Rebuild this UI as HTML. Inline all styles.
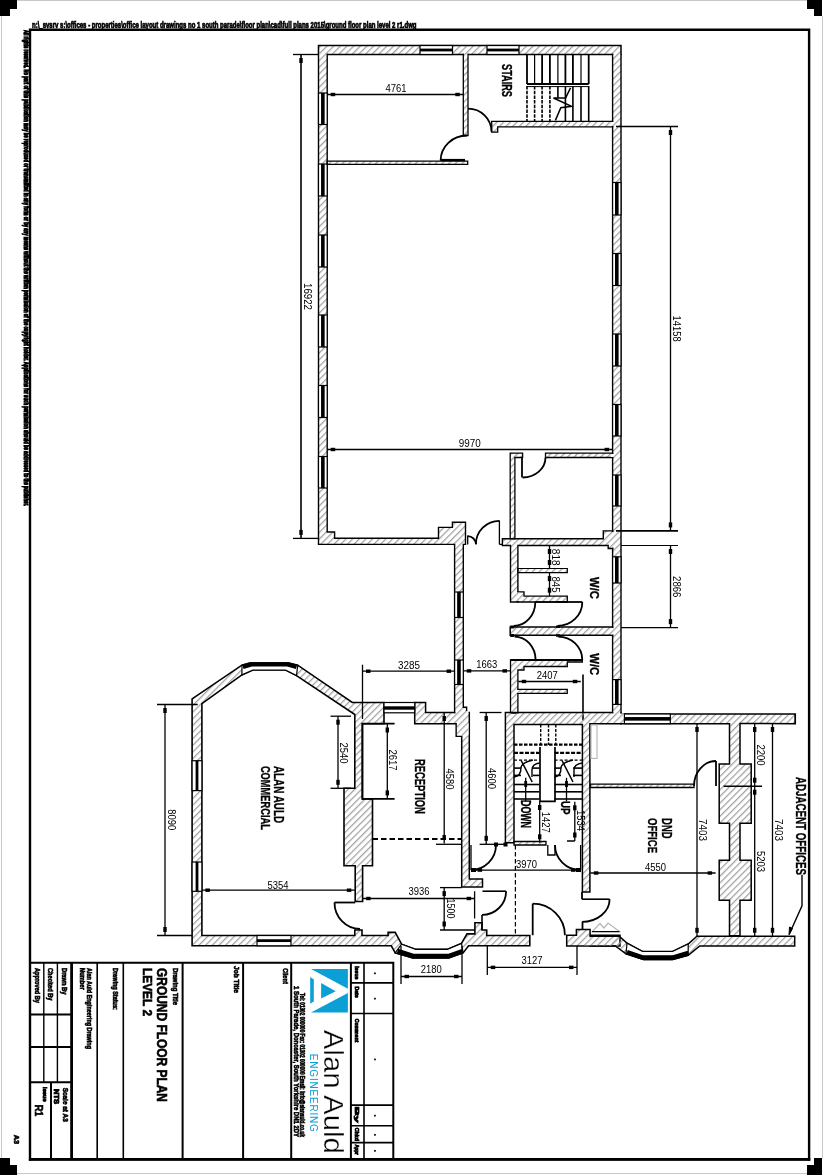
<!DOCTYPE html><html><head><meta charset="utf-8"><style>
html,body{margin:0;padding:0;background:#fff;}
svg{display:block;will-change:transform;}
text{font-family:"Liberation Sans",sans-serif;}
.w{fill:url(#h);stroke:#000;stroke-linejoin:miter;}
.wf{fill:url(#h);stroke:none;}
</style></head><body>
<svg width="824" height="1175" viewBox="0 0 824 1175">
<defs><pattern id="h" width="4.7" height="4.7" patternUnits="userSpaceOnUse" patternTransform="rotate(45)"><line x1="0.5" y1="0" x2="0.5" y2="4.7" stroke="#a0a0a0" stroke-width="1.5"/></pattern></defs>
<rect width="824" height="1175" fill="#fff"/>

<path d="M17,0.5 H807 M1.5,16 V1158 M822.5,16 V1158 M17,1173.5 H807" stroke="#c8c8c8" stroke-width="1" fill="none"/>
<path d="M0,0 H17 V9 H10 V16 H0Z M807,0 H822 V16 H814 V9 H807Z M0,1158 H10 V1165 H17 V1175 H0Z M814,1158 H822 V1175 H807 V1165 H814Z" fill="#000"/>
<path d="M28.9,29.8 H810.3 M30,28.6 V1160.8 M809.1,28.6 V1160.8 M28.9,1159.4 H810.3" fill="none" stroke="#000" stroke-width="2.4"/>
<path d="M28.9,1159.4 H810.3" fill="none" stroke="#000" stroke-width="2.9"/>
<text x="32" y="24.6" font-size="8.6" font-weight="bold" text-anchor="start" dominant-baseline="central" fill="#000" textLength="384.5" lengthAdjust="spacingAndGlyphs" stroke="#000" stroke-width="0.7">n:\_svsrv s:\offices - properties\office layout drawings no 1 south parade\floor plan\cad\full plans 2015\ground floor plan level 2 r1.dwg</text>
<text transform="translate(26.5,30) rotate(90)" font-size="7.6" font-weight="bold" text-anchor="start" dominant-baseline="central" fill="#000" textLength="476" lengthAdjust="spacingAndGlyphs" stroke="#000" stroke-width="1.1">All rights reserved. No part of this publication may be reproduced or transmitted in any form or by any means without the written permission of the copyright holder. Applications for such permission should be addressed to the publisher.</text>
<path class="w" style="stroke-width:1.5" d="M318.5,45.5 L621,45.5 L621,54.5 L318.5,54.5Z"/>
<path class="w" style="stroke-width:1.4" d="M318.5,54.5 L327.2,54.5 L327.2,532 L334.6,532 L334.6,538.3 L438.5,538.3 L438.5,527.4 L452.4,527.4 L452.4,522.3 L465.5,522.3 L465.5,544.4 L463.3,544.4 L463.3,707.3 L466.6,707.3 L466.6,712.5 L454.6,712.5 L454.6,544.4 L318.5,544.4Z"/>
<path class="w" style="stroke-width:1.4" d="M612.6,54.5 L621,54.5 L621,713 L612.6,713Z"/>
<rect fill="#fff" x="319.3" y="53" width="7.1" height="3"/>
<rect class="wf" x="319.3" y="53" width="7.1" height="3"/>
<rect fill="#fff" x="613.4" y="53" width="6.8" height="3"/>
<rect class="wf" x="613.4" y="53" width="6.8" height="3"/>
<rect x="318.5" y="93" width="8.7" height="31.5" fill="#fff" stroke="#000" stroke-width="1.2"/>
<rect x="321.05" y="93" width="3.6" height="31.5" fill="#000"/>
<rect x="318.5" y="164" width="8.7" height="32" fill="#fff" stroke="#000" stroke-width="1.2"/>
<rect x="321.05" y="164" width="3.6" height="32" fill="#000"/>
<rect x="318.5" y="235" width="8.7" height="32" fill="#fff" stroke="#000" stroke-width="1.2"/>
<rect x="321.05" y="235" width="3.6" height="32" fill="#000"/>
<rect x="318.5" y="315" width="8.7" height="32" fill="#fff" stroke="#000" stroke-width="1.2"/>
<rect x="321.05" y="315" width="3.6" height="32" fill="#000"/>
<rect x="318.5" y="385.5" width="8.7" height="32" fill="#fff" stroke="#000" stroke-width="1.2"/>
<rect x="321.05" y="385.5" width="3.6" height="32" fill="#000"/>
<rect x="318.5" y="456.5" width="8.7" height="31.5" fill="#fff" stroke="#000" stroke-width="1.2"/>
<rect x="321.05" y="456.5" width="3.6" height="31.5" fill="#000"/>
<rect x="612.6" y="182.5" width="8.4" height="32.5" fill="#fff" stroke="#000" stroke-width="1.2"/>
<rect x="615" y="182.5" width="3.6" height="32.5" fill="#000"/>
<rect x="612.6" y="253.5" width="8.4" height="32" fill="#fff" stroke="#000" stroke-width="1.2"/>
<rect x="615" y="253.5" width="3.6" height="32" fill="#000"/>
<rect x="612.6" y="334" width="8.4" height="32" fill="#fff" stroke="#000" stroke-width="1.2"/>
<rect x="615" y="334" width="3.6" height="32" fill="#000"/>
<rect x="612.6" y="404.5" width="8.4" height="31.5" fill="#fff" stroke="#000" stroke-width="1.2"/>
<rect x="615" y="404.5" width="3.6" height="31.5" fill="#000"/>
<rect x="612.6" y="475" width="8.4" height="31" fill="#fff" stroke="#000" stroke-width="1.2"/>
<rect x="615" y="475" width="3.6" height="31" fill="#000"/>
<rect x="612.6" y="556.8" width="8.4" height="26.2" fill="#fff" stroke="#000" stroke-width="1.2"/>
<rect x="615" y="556.8" width="3.6" height="26.2" fill="#000"/>
<rect x="612.6" y="679.6" width="8.4" height="24.8" fill="#fff" stroke="#000" stroke-width="1.2"/>
<rect x="615" y="679.6" width="3.6" height="24.8" fill="#000"/>
<rect x="454.6" y="592" width="8.7" height="25.5" fill="#fff" stroke="#000" stroke-width="1.2"/>
<rect x="457.15" y="592" width="3.6" height="25.5" fill="#000"/>
<rect x="454.6" y="660" width="8.7" height="24.5" fill="#fff" stroke="#000" stroke-width="1.2"/>
<rect x="457.15" y="660" width="3.6" height="24.5" fill="#000"/>
<rect x="420" y="45.5" width="32.5" height="9" fill="#fff" stroke="#000" stroke-width="1.2"/>
<rect x="420" y="48.6" width="32.5" height="2.8" fill="#000"/>
<rect x="487" y="45.5" width="32" height="9" fill="#fff" stroke="#000" stroke-width="1.2"/>
<rect x="487" y="48.6" width="32" height="2.8" fill="#000"/>
<path class="w" style="stroke-width:1.3" d="M463.3,54.5 L468,54.5 L468,135.5 L463.3,135.5Z"/>
<path class="w" style="stroke-width:1.3" d="M327.2,161.2 L467.7,161.2 L467.7,164.4 L327.2,164.4Z"/>
<rect fill="#fff" x="464" y="53" width="3.3" height="3.5"/>
<rect class="wf" x="464" y="53" width="3.3" height="3.5"/>
<path d="M468,108.7 A23.5,23 0 0 1 491.5,131.7" fill="none" stroke="#000" stroke-width="1.8" />
<path d="M467,135.5 A26.4,25.1 0 0 0 440.6,160.6" fill="none" stroke="#000" stroke-width="1.8" />
<line x1="440.6" y1="160" x2="465" y2="160" stroke="#000" stroke-width="2.2" />
<path class="w" style="stroke-width:1.3" d="M491.7,121.3 L612.6,121.3 L612.6,126.8 L497.7,126.8 L497.7,132.2 L491.7,132.2Z"/>
<rect fill="#fff" x="611" y="122" width="3" height="4"/>
<rect class="wf" x="611" y="122" width="3" height="4"/>
<line x1="527" y1="54.5" x2="527" y2="84" stroke="#000" stroke-width="1.8" />
<line x1="534.6" y1="54.5" x2="534.6" y2="84" stroke="#000" stroke-width="1.2" />
<line x1="542.1" y1="54.5" x2="542.1" y2="84" stroke="#000" stroke-width="1.8" />
<line x1="549.9" y1="54.5" x2="549.9" y2="84" stroke="#000" stroke-width="1.8" />
<line x1="557.9" y1="54.5" x2="557.9" y2="84" stroke="#000" stroke-width="1.2" />
<line x1="565.4" y1="54.5" x2="565.4" y2="84" stroke="#000" stroke-width="1.8" />
<line x1="572.9" y1="54.5" x2="572.9" y2="84" stroke="#000" stroke-width="1.8" />
<line x1="581" y1="54.5" x2="581" y2="84" stroke="#000" stroke-width="1.2" />
<line x1="588.7" y1="54.5" x2="588.7" y2="84" stroke="#000" stroke-width="1.8" />
<line x1="565.4" y1="86" x2="565.4" y2="121.3" stroke="#000" stroke-width="1.6" />
<line x1="572.9" y1="86" x2="572.9" y2="121.3" stroke="#000" stroke-width="1.6" />
<line x1="581" y1="86" x2="581" y2="121.3" stroke="#000" stroke-width="1.6" />
<line x1="588.7" y1="86" x2="588.7" y2="121.3" stroke="#000" stroke-width="1.6" />
<line x1="557.9" y1="86" x2="557.9" y2="98" stroke="#000" stroke-width="1.6" />
<line x1="527" y1="86" x2="527" y2="121.3" stroke="#000" stroke-width="1.6" stroke-dasharray="3.5,1.2"/>
<line x1="534.6" y1="86" x2="534.6" y2="121.3" stroke="#000" stroke-width="1.6" stroke-dasharray="3.5,1.2"/>
<line x1="542.1" y1="86" x2="542.1" y2="121.3" stroke="#000" stroke-width="1.6" stroke-dasharray="3.5,1.2"/>
<line x1="549.9" y1="86" x2="549.9" y2="121.3" stroke="#000" stroke-width="1.6" stroke-dasharray="3.5,1.2"/>
<line x1="527" y1="84" x2="588.7" y2="84" stroke="#000" stroke-width="2.2" />
<line x1="527" y1="86.6" x2="588.7" y2="86.6" stroke="#000" stroke-width="1" />
<path d="M570.5,87.9 L565.6,98 L553.5,98 L571.5,106.3 L560.8,107.8 L555.4,120.4" fill="none" stroke="#000" stroke-width="1.5" />
<text transform="translate(507.2,80.5) rotate(90)" font-size="13.9" font-weight="bold" text-anchor="middle" dominant-baseline="central" fill="#000" textLength="33" lengthAdjust="spacingAndGlyphs" stroke="#000" stroke-width="0.35">STAIRS</text>
<line x1="293" y1="54.5" x2="318.5" y2="54.5" stroke="#000" stroke-width="1.3" />
<line x1="293" y1="538.4" x2="318.5" y2="538.4" stroke="#000" stroke-width="1.3" />
<line x1="301" y1="54.5" x2="301" y2="538.4" stroke="#000" stroke-width="1.6" />
<rect x="299.3" y="58" width="3.4" height="5" fill="#000"/>
<rect x="299.3" y="529.9" width="3.4" height="5" fill="#000"/>
<text transform="translate(307.5,296.5) rotate(90)" font-size="10.5" text-anchor="middle" dominant-baseline="central" fill="#000" textLength="27" lengthAdjust="spacingAndGlyphs" >16922</text>
<line x1="327.2" y1="94.5" x2="463.3" y2="94.5" stroke="#000" stroke-width="1.3" />
<rect x="330.7" y="92.8" width="4.5" height="3.4" fill="#000"/>
<rect x="455.3" y="92.8" width="4.5" height="3.4" fill="#000"/>
<text x="396" y="88" font-size="10.5" text-anchor="middle" dominant-baseline="central" fill="#000" textLength="21" lengthAdjust="spacingAndGlyphs" >4761</text>
<line x1="327.2" y1="449.5" x2="612.6" y2="449.5" stroke="#000" stroke-width="1.3" />
<rect x="330.7" y="447.8" width="4.5" height="3.4" fill="#000"/>
<rect x="604.6" y="447.8" width="4.5" height="3.4" fill="#000"/>
<text x="469.8" y="443" font-size="10.5" text-anchor="middle" dominant-baseline="central" fill="#000" textLength="22" lengthAdjust="spacingAndGlyphs" >9970</text>
<line x1="616" y1="126.5" x2="678" y2="126.5" stroke="#000" stroke-width="1.6" />
<line x1="616" y1="530.9" x2="678" y2="530.9" stroke="#000" stroke-width="1.6" />
<line x1="670.5" y1="126.5" x2="670.5" y2="530.9" stroke="#000" stroke-width="1.3" />
<rect x="668.8" y="130" width="3.4" height="5" fill="#000"/>
<rect x="668.8" y="522.4" width="3.4" height="5" fill="#000"/>
<text transform="translate(676.7,328.6) rotate(90)" font-size="10.5" text-anchor="middle" dominant-baseline="central" fill="#000" textLength="26" lengthAdjust="spacingAndGlyphs" >14158</text>
<line x1="621" y1="545.5" x2="678" y2="545.5" stroke="#000" stroke-width="1.2" />
<line x1="621" y1="627.6" x2="678" y2="627.6" stroke="#000" stroke-width="1.2" />
<line x1="670.5" y1="545.5" x2="670.5" y2="627.6" stroke="#000" stroke-width="1.3" />
<rect x="668.8" y="549" width="3.4" height="5" fill="#000"/>
<rect x="668.8" y="619.1" width="3.4" height="5" fill="#000"/>
<text transform="translate(676.8,586.7) rotate(90)" font-size="10.5" text-anchor="middle" dominant-baseline="central" fill="#000" textLength="21.3" lengthAdjust="spacingAndGlyphs" >2866</text>
<path class="w" style="stroke-width:1.3" d="M510.2,453.1 L522.6,453.1 L522.6,457.5 L514.9,457.5 L514.9,538.8 L510.2,538.8Z"/>
<path class="w" style="stroke-width:1.3" d="M545.5,453.1 L612.6,453.1 L612.6,457.5 L545.5,457.5Z"/>
<rect fill="#fff" x="611" y="454" width="3" height="3"/>
<rect class="wf" x="611" y="454" width="3" height="3"/>
<line x1="522" y1="457" x2="522" y2="477.5" stroke="#000" stroke-width="1.8" />
<path d="M522.6,477.5 A23,20 0 0 0 545.5,457.5" fill="none" stroke="#000" stroke-width="1.8" />
<path class="w" style="stroke-width:1.4" d="M502.4,538.8 L603.3,538.8 L603.3,530.9 L612.6,530.9 L612.6,548.5 L608.2,548.5 L608.2,545.5 L517.9,545.5 L517.9,602 L510.5,602 L510.5,545.5 L502.4,545.5Z"/>
<rect fill="#fff" x="611" y="532" width="3" height="15.5"/>
<rect class="wf" x="611" y="532" width="3" height="15.5"/>
<line x1="467.7" y1="535.6" x2="467.7" y2="544.4" stroke="#000" stroke-width="1.3" />
<path d="M467.7,536.1 A8.2,8.2 0 0 1 475.9,544.3" fill="none" stroke="#000" stroke-width="1.8" />
<path d="M475.9,544.3 A23.5,23.5 0 0 1 499.4,520.8" fill="none" stroke="#000" stroke-width="1.8" />
<line x1="499.4" y1="520.5" x2="499.4" y2="544.4" stroke="#000" stroke-width="1.3" />
<line x1="499.4" y1="544.4" x2="502.4" y2="544.4" stroke="#000" stroke-width="1.3" />
<path class="w" style="stroke-width:1.2" d="M517.9,568.5 L567.3,568.5 L567.3,572.6 L517.9,572.6Z"/>
<path class="w" style="stroke-width:1.3" d="M517.9,591.8 L524,591.8 L524,596.2 L567.3,596.2 L567.3,602 L517.9,602Z"/>
<rect fill="#fff" x="516.5" y="592.5" width="3" height="8.5"/>
<rect class="wf" x="516.5" y="592.5" width="3" height="8.5"/>
<line x1="549.5" y1="545.5" x2="549.5" y2="568.5" stroke="#000" stroke-width="1.3" />
<rect x="547.8" y="549" width="3.4" height="5" fill="#000"/>
<rect x="547.8" y="560" width="3.4" height="5" fill="#000"/>
<text transform="translate(556,557.2) rotate(90)" font-size="10.5" text-anchor="middle" dominant-baseline="central" fill="#000" textLength="16.8" lengthAdjust="spacingAndGlyphs" >818</text>
<line x1="549.5" y1="572.6" x2="549.5" y2="596.2" stroke="#000" stroke-width="1.3" />
<rect x="547.8" y="576.1" width="3.4" height="5" fill="#000"/>
<rect x="547.8" y="587.7" width="3.4" height="5" fill="#000"/>
<text transform="translate(556,584.5) rotate(90)" font-size="10.5" text-anchor="middle" dominant-baseline="central" fill="#000" textLength="16" lengthAdjust="spacingAndGlyphs" >845</text>
<text transform="translate(594.6,588) rotate(90)" font-size="13.3" font-weight="bold" text-anchor="middle" dominant-baseline="central" fill="#000" textLength="22" lengthAdjust="spacingAndGlyphs" stroke="#000" stroke-width="0.35">W/C</text>
<path class="w" style="stroke-width:1.5" d="M510.2,627.1 L612.6,627.1 L612.6,635.3 L510.2,635.3Z"/>
<rect fill="#fff" x="611" y="628" width="3" height="6.5"/>
<rect class="wf" x="611" y="628" width="3" height="6.5"/>
<rect x="510.2" y="625.5" width="4" height="3" fill="#000"/><rect x="510.2" y="634" width="4" height="3" fill="#000"/>
<rect x="556" y="625.5" width="4" height="2.5" fill="#000"/><rect x="556" y="634.3" width="4" height="2.5" fill="#000"/>
<path d="M513.8,626 A21.5,24 0 0 0 535.3,602" fill="none" stroke="#000" stroke-width="1.8" />
<path d="M557.5,626 A24.8,24 0 0 0 582.3,602" fill="none" stroke="#000" stroke-width="1.8" />
<line x1="535" y1="602" x2="567.3" y2="602" stroke="#000" stroke-width="1.3" />
<line x1="556.8" y1="602" x2="582.3" y2="602" stroke="#000" stroke-width="1.8" />
<path d="M514.6,636.6 A21,23.4 0 0 1 535.6,660" fill="none" stroke="#000" stroke-width="1.8" />
<path d="M558.2,636.6 A24.1,23.4 0 0 1 582.3,660" fill="none" stroke="#000" stroke-width="1.8" />
<path class="w" style="stroke-width:1.3" d="M510.5,660 L582.3,660 L582.3,662 L567.3,662 L567.3,666.5 L524,666.5 L524,670 L517.9,670 L517.9,713.2 L510.5,713.2Z"/>
<line x1="510.5" y1="660" x2="582.3" y2="660" stroke="#000" stroke-width="2.2" />
<path class="w" style="stroke-width:1.2" d="M517.9,689.4 L567.3,689.4 L567.3,693.4 L517.9,693.4Z"/>
<rect fill="#fff" x="516.5" y="690" width="3" height="3"/>
<rect class="wf" x="516.5" y="690" width="3" height="3"/>
<line x1="518.2" y1="681.5" x2="580.8" y2="681.5" stroke="#000" stroke-width="1.3" />
<rect x="521.7" y="679.8" width="4.5" height="3.4" fill="#000"/>
<rect x="572.8" y="679.8" width="4.5" height="3.4" fill="#000"/>
<text x="547.3" y="675.3" font-size="10.5" text-anchor="middle" dominant-baseline="central" fill="#000" textLength="21" lengthAdjust="spacingAndGlyphs" >2407</text>
<line x1="583" y1="674.5" x2="583" y2="720.4" stroke="#000" stroke-width="1.6" />
<text transform="translate(594.6,664.3) rotate(90)" font-size="13.3" font-weight="bold" text-anchor="middle" dominant-baseline="central" fill="#000" textLength="22" lengthAdjust="spacingAndGlyphs" stroke="#000" stroke-width="0.35">W/C</text>
<line x1="463.3" y1="670.9" x2="510.5" y2="670.9" stroke="#000" stroke-width="1.3" />
<rect x="466.8" y="669.2" width="4.5" height="3.4" fill="#000"/>
<rect x="502.5" y="669.2" width="4.5" height="3.4" fill="#000"/>
<text x="486.8" y="664.4" font-size="10.5" text-anchor="middle" dominant-baseline="central" fill="#000" textLength="21" lengthAdjust="spacingAndGlyphs" >1663</text>
<path class="w" style="stroke-width:1.6" d="M355.2,901.5 L355.2,865.8 L344,865.8 L344,788.3 L354.8,788.3 L354.8,714.5 L296.5,675.6 L285.6,670 L252.8,670 L241.9,674.9 L201.9,703.6 L201.9,935.5 L354.8,935.5 L354.8,930 L362,930 L362,935.5 L388.1,935.5 L388.1,932.4 L395.2,932.4 L401.6,944.2 L415.8,949.4 L447.3,949.4 L461.5,943.4 L467,933.9 L474.9,933.9 L474.9,922.8 L482,922.8 L482,930 L486.7,930 L486.7,935.5 L529.8,935.5 L529.8,945.8 L468.6,945.8 L463.1,952.9 L448.9,957.9 L412.6,957.9 L395.2,952.9 L391.3,945.8 L192.1,945.8 L192.1,698.9 L241.9,665.2 L250.4,662.8 L288,662.8 L297.7,665.2 L352.3,702.5 L384,702.5 L384,723.7 L362.4,723.7 L362.4,798.9 L372.5,798.9 L372.5,865.8 L362.6,865.8 L362.6,901.5Z"/>
<path d="M242,665.2 L250.4,662.8 L288,662.8 L297.7,665.2 L296.5,675.6 L285.6,670 L252.8,670 L241.9,674.9Z" fill="#fff" stroke="#000" stroke-width="1.2"/>
<path d="M243,667 L251.5,664.5 L287.5,664.5 L296.5,667" fill="none" stroke="#000" stroke-width="4"/>
<rect x="192.1" y="760.7" width="9.8" height="29.9" fill="#fff" stroke="#000" stroke-width="1.2"/>
<rect x="195.6" y="760.7" width="2.8" height="29.9" fill="#000"/>
<rect x="192.1" y="862" width="9.8" height="29.3" fill="#fff" stroke="#000" stroke-width="1.2"/>
<rect x="195.6" y="862" width="2.8" height="29.3" fill="#000"/>
<rect x="257" y="935.5" width="34" height="10.3" fill="#fff" stroke="#000" stroke-width="1.2"/>
<rect x="257" y="939.25" width="34" height="2.8" fill="#000"/>
<path class="w" style="stroke-width:1.5" d="M414.7,702.5 L425.6,702.5 L425.6,712.5 L469.3,712.5 L469.3,879.1 L482.5,879.1 L482.5,887 L461.7,887 L461.7,736.2 L456.2,736.2 L456.2,723.7 L414.7,723.7Z"/>
<rect fill="#fff" x="455.5" y="711" width="13" height="3"/>
<rect class="wf" x="455.5" y="711" width="13" height="3"/>
<rect x="384" y="702.5" width="30.7" height="10.3" fill="#fff" stroke="#000" stroke-width="1.2"/>
<rect x="384" y="706.3" width="30.7" height="3.4" fill="#000"/>
<path d="M394.6,723.7 L362.4,723.7 L362.4,798.9 L394.6,798.9" fill="none" stroke="#000" stroke-width="1.8" />
<line x1="372.5" y1="839" x2="461.7" y2="839" stroke="#000" stroke-width="2" stroke-dasharray="5.5,3"/>
<text transform="translate(279.5,794.5) rotate(90)" font-size="15" font-weight="bold" text-anchor="middle" dominant-baseline="central" fill="#000" textLength="57" lengthAdjust="spacingAndGlyphs" stroke="#000" stroke-width="0.35">ALAN AULD</text>
<text transform="translate(265,797.9) rotate(90)" font-size="13.4" font-weight="bold" text-anchor="middle" dominant-baseline="central" fill="#000" textLength="64" lengthAdjust="spacingAndGlyphs" stroke="#000" stroke-width="0.35">COMMERCIAL</text>
<text transform="translate(420,786.4) rotate(90)" font-size="14" font-weight="bold" text-anchor="middle" dominant-baseline="central" fill="#000" textLength="55" lengthAdjust="spacingAndGlyphs" stroke="#000" stroke-width="0.35">RECEPTION</text>
<line x1="157" y1="704.5" x2="197.7" y2="704.5" stroke="#000" stroke-width="1.3" />
<line x1="157" y1="935.5" x2="192.1" y2="935.5" stroke="#000" stroke-width="1.3" />
<line x1="165" y1="704.5" x2="165" y2="935.5" stroke="#000" stroke-width="1.3" />
<rect x="163.3" y="708" width="3.4" height="5" fill="#000"/>
<rect x="163.3" y="927" width="3.4" height="5" fill="#000"/>
<text transform="translate(171.8,819.8) rotate(90)" font-size="10.5" text-anchor="middle" dominant-baseline="central" fill="#000" textLength="21" lengthAdjust="spacingAndGlyphs" >8090</text>
<line x1="201.9" y1="890.2" x2="354.8" y2="890.2" stroke="#000" stroke-width="1.3" />
<rect x="205.4" y="888.5" width="4.5" height="3.4" fill="#000"/>
<rect x="346.8" y="888.5" width="4.5" height="3.4" fill="#000"/>
<text x="278" y="884.5" font-size="10.5" text-anchor="middle" dominant-baseline="central" fill="#000" textLength="21" lengthAdjust="spacingAndGlyphs" >5354</text>
<line x1="330.5" y1="716.2" x2="351" y2="716.2" stroke="#000" stroke-width="1.3" />
<line x1="330.5" y1="788.3" x2="351" y2="788.3" stroke="#000" stroke-width="1.3" />
<line x1="338" y1="716.2" x2="338" y2="788.3" stroke="#000" stroke-width="1.3" />
<rect x="336.3" y="719.7" width="3.4" height="5" fill="#000"/>
<rect x="336.3" y="779.8" width="3.4" height="5" fill="#000"/>
<text transform="translate(343.7,752.9) rotate(90)" font-size="10.5" text-anchor="middle" dominant-baseline="central" fill="#000" textLength="21" lengthAdjust="spacingAndGlyphs" >2540</text>
<line x1="387.3" y1="724" x2="387.3" y2="798.9" stroke="#000" stroke-width="1.3" />
<rect x="385.6" y="727.5" width="3.4" height="5" fill="#000"/>
<rect x="385.6" y="790.4" width="3.4" height="5" fill="#000"/>
<text transform="translate(392.7,760) rotate(90)" font-size="10.5" text-anchor="middle" dominant-baseline="central" fill="#000" textLength="21" lengthAdjust="spacingAndGlyphs" >2617</text>
<line x1="362.5" y1="664.7" x2="362.5" y2="719" stroke="#000" stroke-width="1.3" />
<line x1="362.5" y1="671.2" x2="454.6" y2="671.2" stroke="#000" stroke-width="1.3" />
<rect x="366" y="669.5" width="4.5" height="3.4" fill="#000"/>
<rect x="446.6" y="669.5" width="4.5" height="3.4" fill="#000"/>
<text x="409" y="665" font-size="10.5" text-anchor="middle" dominant-baseline="central" fill="#000" textLength="22" lengthAdjust="spacingAndGlyphs" >3285</text>
<line x1="444.2" y1="712.5" x2="444.2" y2="843.5" stroke="#000" stroke-width="1.3" />
<rect x="442.5" y="716" width="3.4" height="5" fill="#000"/>
<rect x="442.5" y="835" width="3.4" height="5" fill="#000"/>
<text transform="translate(450,779) rotate(90)" font-size="10.5" text-anchor="middle" dominant-baseline="central" fill="#000" textLength="21" lengthAdjust="spacingAndGlyphs" >4580</text>
<line x1="436" y1="844.3" x2="461.7" y2="844.3" stroke="#000" stroke-width="1.3" />
<line x1="362.6" y1="898.5" x2="474.6" y2="898.5" stroke="#000" stroke-width="1.3" />
<rect x="366.1" y="896.8" width="4.5" height="3.4" fill="#000"/>
<rect x="466.6" y="896.8" width="4.5" height="3.4" fill="#000"/>
<text x="419" y="891.3" font-size="10.5" text-anchor="middle" dominant-baseline="central" fill="#000" textLength="21" lengthAdjust="spacingAndGlyphs" >3936</text>
<line x1="474.6" y1="891.2" x2="474.6" y2="918.5" stroke="#000" stroke-width="1.3" />
<line x1="440" y1="887.6" x2="461.7" y2="887.6" stroke="#000" stroke-width="1.3" />
<line x1="440" y1="930" x2="475" y2="930" stroke="#000" stroke-width="1.3" />
<line x1="444.2" y1="887.6" x2="444.2" y2="930" stroke="#000" stroke-width="1.3" />
<rect x="442.5" y="891.1" width="3.4" height="5" fill="#000"/>
<rect x="442.5" y="921.5" width="3.4" height="5" fill="#000"/>
<text transform="translate(451,908.5) rotate(90)" font-size="10.5" text-anchor="middle" dominant-baseline="central" fill="#000" textLength="20" lengthAdjust="spacingAndGlyphs" >1500</text>
<line x1="334.5" y1="902.5" x2="355.2" y2="902.5" stroke="#000" stroke-width="1.8" />
<path d="M334.5,902.5 A25.5,26.5 0 0 0 360,929" fill="none" stroke="#000" stroke-width="1.8" />
<path d="M401.6,944.2 L415.8,949.4 L447.3,949.4 L461.5,943.4 L463.1,952.9 L448.9,957.9 L412.6,957.9 L395.2,952.9Z" fill="#fff" stroke="#000" stroke-width="1.2"/>
<path d="M397.5,951 L413,956 L448.5,956 L462.5,951" fill="none" stroke="#000" stroke-width="4.5"/>
<line x1="482" y1="914.9" x2="482" y2="930.1" stroke="#000" stroke-width="1.6" />
<line x1="482.5" y1="891.2" x2="506.1" y2="891.2" stroke="#000" stroke-width="1.6" />
<path d="M506.1,891.2 A24,23.7 0 0 1 482,914.9" fill="none" stroke="#000" stroke-width="1.8" />
<line x1="401" y1="946" x2="401" y2="984" stroke="#000" stroke-width="1.3" />
<line x1="462" y1="946" x2="462" y2="984" stroke="#000" stroke-width="1.3" />
<line x1="401" y1="976.5" x2="462" y2="976.5" stroke="#000" stroke-width="1.3" />
<rect x="404.5" y="974.8" width="4.5" height="3.4" fill="#000"/>
<rect x="454" y="974.8" width="4.5" height="3.4" fill="#000"/>
<text x="431.2" y="969.2" font-size="10.5" text-anchor="middle" dominant-baseline="central" fill="#000" textLength="21" lengthAdjust="spacingAndGlyphs" >2180</text>
<line x1="487.3" y1="946" x2="487.3" y2="975" stroke="#000" stroke-width="1.3" />
<line x1="577" y1="946" x2="577" y2="975" stroke="#000" stroke-width="1.3" />
<line x1="487.3" y1="967.4" x2="577" y2="967.4" stroke="#000" stroke-width="1.3" />
<rect x="490.8" y="965.7" width="4.5" height="3.4" fill="#000"/>
<rect x="569" y="965.7" width="4.5" height="3.4" fill="#000"/>
<text x="532" y="960" font-size="10.5" text-anchor="middle" dominant-baseline="central" fill="#000" textLength="21" lengthAdjust="spacingAndGlyphs" >3127</text>
<rect fill="#fff" x="456.9" y="723" width="11.6" height="12.5"/>
<rect class="wf" x="456.9" y="723" width="11.6" height="12.5"/>
<path class="w" style="stroke-width:1.5" d="M505.4,712.5 L621,712.5 L621,723.7 L589.9,723.7 L589.9,892.1 L582.4,892.1 L582.4,724.4 L514,724.4 L514,842.8 L505.4,842.8Z"/>
<rect fill="#fff" x="613.4" y="711" width="6.8" height="3.5"/>
<rect class="wf" x="613.4" y="711" width="6.8" height="3.5"/>
<path class="w" style="stroke-width:1.3" d="M514,841.5 L546,841.5 L546,845 L514,845Z"/>
<rect x="540" y="747" width="15" height="54" fill="#fff"/>
<path d="M540,747 V801.3 H555 V747" fill="none" stroke="#000" stroke-width="1.7" />
<line x1="540.7" y1="724.4" x2="540.7" y2="745" stroke="#000" stroke-width="1.4" stroke-dasharray="3,1.5"/>
<line x1="548.5" y1="724.4" x2="548.5" y2="745" stroke="#000" stroke-width="1.4" stroke-dasharray="3,1.5"/>
<line x1="555.8" y1="724.4" x2="555.8" y2="745" stroke="#000" stroke-width="1.4" stroke-dasharray="3,1.5"/>
<line x1="514" y1="744.6" x2="582.4" y2="744.6" stroke="#000" stroke-width="2.2" stroke-dasharray="3.5,1.5"/>
<line x1="514" y1="752.9" x2="539.4" y2="752.9" stroke="#000" stroke-width="2.2" stroke-dasharray="4,1.5"/>
<line x1="554.6" y1="752.9" x2="582.4" y2="752.9" stroke="#000" stroke-width="2.2" stroke-dasharray="4,1.5"/>
<line x1="514" y1="760.2" x2="539.4" y2="760.2" stroke="#000" stroke-width="1.2" stroke-dasharray="3,2"/>
<line x1="554.6" y1="760.2" x2="582.4" y2="760.2" stroke="#000" stroke-width="1.2" stroke-dasharray="3,2"/>
<line x1="514" y1="784.5" x2="539.4" y2="784.5" stroke="#000" stroke-width="1.6" />
<line x1="554.6" y1="784.5" x2="582.4" y2="784.5" stroke="#000" stroke-width="1.6" />
<line x1="514" y1="791.8" x2="539.4" y2="791.8" stroke="#000" stroke-width="1.6" />
<line x1="554.6" y1="791.8" x2="582.4" y2="791.8" stroke="#000" stroke-width="1.6" />
<line x1="514" y1="799" x2="539.4" y2="799" stroke="#000" stroke-width="1.6" />
<line x1="554.6" y1="799" x2="582.4" y2="799" stroke="#000" stroke-width="1.6" />
<line x1="514" y1="768.1" x2="521" y2="768.1" stroke="#000" stroke-width="1.6" />
<line x1="533" y1="768.1" x2="539.4" y2="768.1" stroke="#000" stroke-width="1.6" />
<line x1="554.6" y1="768.1" x2="561" y2="768.1" stroke="#000" stroke-width="1.6" />
<line x1="573" y1="768.1" x2="582.4" y2="768.1" stroke="#000" stroke-width="1.6" />
<line x1="514" y1="775.4" x2="521" y2="775.4" stroke="#000" stroke-width="1.6" />
<line x1="533" y1="775.4" x2="539.4" y2="775.4" stroke="#000" stroke-width="1.6" />
<line x1="554.6" y1="775.4" x2="561" y2="775.4" stroke="#000" stroke-width="1.6" />
<line x1="573" y1="775.4" x2="582.4" y2="775.4" stroke="#000" stroke-width="1.6" />
<path d="M521.2,760.5 L532.2,782" fill="none" stroke="#000" stroke-width="1.5" />
<path d="M562,760.5 L573,782" fill="none" stroke="#000" stroke-width="1.5" />
<path d="M514,777 Q521,776 521,768 Q521,763 533,760" fill="none" stroke="#000" stroke-width="1.4" />
<path d="M554.6,777 Q561,776 561,768 Q561,763 573,760" fill="none" stroke="#000" stroke-width="1.4" />
<path d="M539.4,763 Q532,764 532,770 L532,777" fill="none" stroke="#000" stroke-width="1.4" />
<path d="M582.4,763 Q574,764 574,770 L574,777" fill="none" stroke="#000" stroke-width="1.4" />
<line x1="525.7" y1="777.8" x2="525.7" y2="801" stroke="#000" stroke-width="1.3" />
<rect x="524.3" y="781" width="2.8" height="6" fill="#000"/>
<line x1="566.5" y1="777.8" x2="566.5" y2="801" stroke="#000" stroke-width="1.3" />
<rect x="565.1" y="781" width="2.8" height="6" fill="#000"/>
<text transform="translate(525.5,814) rotate(90)" font-size="13.9" font-weight="bold" text-anchor="middle" dominant-baseline="central" fill="#000" textLength="28" lengthAdjust="spacingAndGlyphs" stroke="#000" stroke-width="0.35">DOWN</text>
<text transform="translate(565.6,807.8) rotate(90)" font-size="13.7" font-weight="bold" text-anchor="middle" dominant-baseline="central" fill="#000" textLength="13.6" lengthAdjust="spacingAndGlyphs" stroke="#000" stroke-width="0.35">UP</text>
<line x1="539.7" y1="801.5" x2="539.7" y2="842.8" stroke="#000" stroke-width="1.3" />
<rect x="538" y="805" width="3.4" height="5" fill="#000"/>
<rect x="538" y="834.3" width="3.4" height="5" fill="#000"/>
<text transform="translate(546.3,822.3) rotate(90)" font-size="10.5" text-anchor="middle" dominant-baseline="central" fill="#000" textLength="21" lengthAdjust="spacingAndGlyphs" >1427</text>
<line x1="574.8" y1="801.8" x2="574.8" y2="841" stroke="#000" stroke-width="1.3" />
<rect x="573.1" y="805.3" width="3.4" height="5" fill="#000"/>
<rect x="573.1" y="832.5" width="3.4" height="5" fill="#000"/>
<line x1="567" y1="841" x2="574.8" y2="841" stroke="#000" stroke-width="1.5" />
<text transform="translate(580.9,820.5) rotate(90)" font-size="10.5" text-anchor="middle" dominant-baseline="central" fill="#000" textLength="21" lengthAdjust="spacingAndGlyphs" >1534</text>
<line x1="479.6" y1="712.5" x2="501.5" y2="712.5" stroke="#000" stroke-width="1.3" />
<line x1="479.6" y1="844.3" x2="505.4" y2="844.3" stroke="#000" stroke-width="1.3" />
<line x1="486.2" y1="712.5" x2="486.2" y2="844.3" stroke="#000" stroke-width="1.3" />
<rect x="484.5" y="716" width="3.4" height="5" fill="#000"/>
<rect x="484.5" y="835.8" width="3.4" height="5" fill="#000"/>
<text transform="translate(492,778.5) rotate(90)" font-size="10.5" text-anchor="middle" dominant-baseline="central" fill="#000" textLength="21" lengthAdjust="spacingAndGlyphs" >4600</text>
<line x1="515.4" y1="845" x2="515.4" y2="935.5" stroke="#000" stroke-width="1.2" stroke-dasharray="4.5,2.5"/>
<line x1="474.1" y1="870.1" x2="579" y2="870.1" stroke="#000" stroke-width="1.3" />
<rect x="477.6" y="868.4" width="4.5" height="3.4" fill="#000"/>
<rect x="571" y="868.4" width="4.5" height="3.4" fill="#000"/>
<text x="526.4" y="863.8" font-size="10.5" text-anchor="middle" dominant-baseline="central" fill="#000" textLength="21" lengthAdjust="spacingAndGlyphs" >3970</text>
<rect x="494" y="842.5" width="4" height="4" fill="#000"/><rect x="503.5" y="842.5" width="4" height="4" fill="#000"/>
<line x1="471" y1="845" x2="471" y2="870" stroke="#000" stroke-width="1.3" />
<path d="M496,845 A25,25 0 0 1 471,870" fill="none" stroke="#000" stroke-width="1.8" />
<rect x="471" y="868" width="5" height="4" fill="#000"/><rect x="576" y="868" width="5" height="4" fill="#000"/>
<line x1="580.6" y1="845" x2="580.6" y2="870" stroke="#000" stroke-width="1.3" />
<path d="M555,845 A25,25 0 0 0 580,870" fill="none" stroke="#000" stroke-width="1.8" />
<path d="M547.8,845 L547.8,855 L555,855 L555,845" fill="none" stroke="#000" stroke-width="1.3" />
<line x1="532.7" y1="903.7" x2="532.7" y2="935.2" stroke="#000" stroke-width="1.8" />
<path d="M532.7,903.7 A32.2,31.5 0 0 1 564.9,935.2" fill="none" stroke="#000" stroke-width="1.8" />
<path class="w" style="stroke-width:1.5" d="M566.7,935.2 L576.4,935.2 L576.4,929.5 L590.1,929.5 L590.1,935.2 L620,935.2 L620,946.1 L566.7,946.1Z"/>
<line x1="582.5" y1="921.9" x2="582.5" y2="929.5" stroke="#000" stroke-width="1.8" />
<line x1="582" y1="892.1" x2="582" y2="899.2" stroke="#000" stroke-width="1.8" />
<line x1="582" y1="899.2" x2="609.6" y2="899.2" stroke="#000" stroke-width="1.6" />
<path d="M609.6,899.2 A27.6,22.7 0 0 1 582,921.9" fill="none" stroke="#000" stroke-width="1.8" />
<path d="M592.2,931.6 L600,923.5 L604,928 L608,923.1 L619.5,931.6 Z" fill="none" stroke="#b4b4b4" stroke-width="1.2"/>
<line x1="592" y1="931.6" x2="619.5" y2="931.6" stroke="#000" stroke-width="1.2" stroke="#b4b4b4"/>
<path class="w" style="stroke-width:1.5" d="M621,714 L795.3,714 L795.3,723.7 L740,723.5 L740,764 L751.2,764 L751.2,823.3 L740,823.3 L740,860.3 L751.2,860.3 L751.2,900.2 L740,900.2 L740,935.8 L729.5,935.8 L729.5,900.2 L719.2,900.2 L719.2,860.3 L729.5,860.3 L729.5,823.3 L719.2,823.3 L719.2,764 L729.5,764 L729.5,723.7 L621,723.7Z"/>
<rect fill="#fff" x="612" y="713.5" width="12" height="9.5"/>
<rect class="wf" x="612" y="713.5" width="12" height="9.5"/>
<rect x="624.4" y="714" width="45.9" height="9.7" fill="#fff" stroke="#000" stroke-width="1.2"/>
<rect x="624.4" y="717.05" width="45.9" height="3.6" fill="#000"/>
<path class="w" style="stroke-width:1.3" d="M590.4,784.2 L694,784.2 L694,787.5 L590.4,787.5Z"/>
<line x1="716" y1="761" x2="716" y2="786" stroke="#000" stroke-width="1.8" />
<path d="M694,786 A22,25 0 0 1 716,761" fill="none" stroke="#000" stroke-width="1.8" />
<path class="w" style="stroke-width:1.5" d="M590.1,936.3 L619.2,936.3 L627,943.1 L642.5,951.5 L672.6,951.5 L688.2,944 L696.9,936.3 L794.7,936.3 L794.7,946 L699.8,946 L688.2,955.3 L672.6,959.6 L643.5,959.6 L626,953.8 L615.3,946 L590.1,946 Z"/>
<path d="M627,943.1 L642.5,951.5 L672.6,951.5 L688.2,944 L688.2,955.3 L672.6,959.6 L643.5,959.6 L626,953.8Z" fill="#fff" stroke="#000" stroke-width="1.2"/>
<path d="M627,952 L643,957.6 L672.6,957.6 L688.3,953" fill="none" stroke="#000" stroke-width="4.5"/>
<rect fill="#fff" x="584" y="937.2" width="28" height="8"/>
<rect class="wf" x="584" y="937.2" width="28" height="8"/>
<rect x="591" y="725" width="6" height="33.4" fill="none" stroke="#b4b4b4" stroke-width="1.1"/>
<text transform="translate(667.5,828.4) rotate(90)" font-size="15" font-weight="bold" text-anchor="middle" dominant-baseline="central" fill="#000" textLength="20.7" lengthAdjust="spacingAndGlyphs" stroke="#000" stroke-width="0.35">DND</text>
<text transform="translate(652.9,835.5) rotate(90)" font-size="13.7" font-weight="bold" text-anchor="middle" dominant-baseline="central" fill="#000" textLength="35" lengthAdjust="spacingAndGlyphs" stroke="#000" stroke-width="0.35">OFFICE</text>
<line x1="590.4" y1="873" x2="715.6" y2="873" stroke="#000" stroke-width="1.3" />
<rect x="593.9" y="871.3" width="4.5" height="3.4" fill="#000"/>
<rect x="707.6" y="871.3" width="4.5" height="3.4" fill="#000"/>
<text x="655.5" y="866.8" font-size="10.5" text-anchor="middle" dominant-baseline="central" fill="#000" textLength="21" lengthAdjust="spacingAndGlyphs" >4550</text>
<line x1="697" y1="723.5" x2="697" y2="936.3" stroke="#000" stroke-width="1.3" />
<rect x="695.3" y="727" width="3.4" height="5" fill="#000"/>
<rect x="695.3" y="927.8" width="3.4" height="5" fill="#000"/>
<text transform="translate(703,830) rotate(90)" font-size="10.5" text-anchor="middle" dominant-baseline="central" fill="#000" textLength="22" lengthAdjust="spacingAndGlyphs" >7403</text>
<line x1="754.7" y1="723.5" x2="754.7" y2="786.2" stroke="#000" stroke-width="1.3" />
<rect x="753" y="727" width="3.4" height="5" fill="#000"/>
<rect x="753" y="777.7" width="3.4" height="5" fill="#000"/>
<text transform="translate(760.6,755) rotate(90)" font-size="10.5" text-anchor="middle" dominant-baseline="central" fill="#000" textLength="21" lengthAdjust="spacingAndGlyphs" >2200</text>
<line x1="754.7" y1="786.2" x2="754.7" y2="936.3" stroke="#000" stroke-width="1.3" />
<rect x="753" y="789.7" width="3.4" height="5" fill="#000"/>
<rect x="753" y="927.8" width="3.4" height="5" fill="#000"/>
<text transform="translate(760.6,861.5) rotate(90)" font-size="10.5" text-anchor="middle" dominant-baseline="central" fill="#000" textLength="21" lengthAdjust="spacingAndGlyphs" >5203</text>
<line x1="772.5" y1="723.5" x2="772.5" y2="936.3" stroke="#000" stroke-width="1.3" />
<rect x="770.8" y="727" width="3.4" height="5" fill="#000"/>
<rect x="770.8" y="927.8" width="3.4" height="5" fill="#000"/>
<text transform="translate(779,830) rotate(90)" font-size="10.5" text-anchor="middle" dominant-baseline="central" fill="#000" textLength="22" lengthAdjust="spacingAndGlyphs" >7403</text>
<line x1="723.6" y1="786.2" x2="762" y2="786.2" stroke="#000" stroke-width="1.4" />
<text transform="translate(800.5,826) rotate(90)" font-size="14.1" font-weight="bold" text-anchor="middle" dominant-baseline="central" fill="#000" textLength="98" lengthAdjust="spacingAndGlyphs" stroke="#000" stroke-width="0.35">ADJACENT OFFICES</text>
<path d="M802,874.8 L802,905.8 L789.1,934.5" fill="none" stroke="#000" stroke-width="1.4" />
<path d="M789.1,934.5 L789.5,927 L792.5,928.5Z" fill="#000" stroke="#000" stroke-width="1"/>
<line x1="795.3" y1="714" x2="795.3" y2="723.7" stroke="#000" stroke-width="1.4" />
<path d="M30,962.8 H393.3 V1158" fill="none" stroke="#000" stroke-width="2"/>
<line x1="71.6" y1="962.8" x2="71.6" y2="1158" stroke="#000" stroke-width="2.8" />
<line x1="97.2" y1="962.8" x2="97.2" y2="1158" stroke="#000" stroke-width="1.6" />
<line x1="123.3" y1="962.8" x2="123.3" y2="1158" stroke="#000" stroke-width="1.6" />
<line x1="182.6" y1="962.8" x2="182.6" y2="1158" stroke="#000" stroke-width="2" />
<line x1="243.1" y1="962.8" x2="243.1" y2="1158" stroke="#000" stroke-width="2" />
<line x1="291.2" y1="962.8" x2="291.2" y2="1158" stroke="#000" stroke-width="2" />
<line x1="350.9" y1="962.8" x2="350.9" y2="1158" stroke="#000" stroke-width="2" />
<line x1="364" y1="962.8" x2="364" y2="1158" stroke="#000" stroke-width="1.6" />
<line x1="43.8" y1="962.8" x2="43.8" y2="1082.3" stroke="#000" stroke-width="1.4" />
<line x1="57.4" y1="962.8" x2="57.4" y2="1082.3" stroke="#000" stroke-width="1.4" />
<line x1="51" y1="1082.3" x2="51" y2="1158" stroke="#000" stroke-width="2" />
<line x1="30" y1="1014.5" x2="72" y2="1014.5" stroke="#000" stroke-width="2" />
<line x1="30" y1="1047" x2="72" y2="1047" stroke="#000" stroke-width="2" />
<line x1="30" y1="1082.3" x2="72" y2="1082.3" stroke="#000" stroke-width="2" />
<line x1="350.9" y1="982.9" x2="393.3" y2="982.9" stroke="#000" stroke-width="1.6" />
<line x1="350.9" y1="1013.5" x2="393.3" y2="1013.5" stroke="#000" stroke-width="1.6" />
<line x1="350.9" y1="1105.1" x2="393.3" y2="1105.1" stroke="#000" stroke-width="1.6" />
<line x1="350.9" y1="1125.7" x2="393.3" y2="1125.7" stroke="#000" stroke-width="1.6" />
<line x1="350.9" y1="1142.6" x2="393.3" y2="1142.6" stroke="#000" stroke-width="1.6" />
<text transform="translate(175.6,968) rotate(90)" font-size="6.5" font-weight="bold" text-anchor="start" dominant-baseline="central" fill="#000" textLength="37" lengthAdjust="spacingAndGlyphs" stroke="#000" stroke-width="0.6">Drawing Title</text>
<text transform="translate(161.8,968) rotate(90)" font-size="13.8" font-weight="bold" text-anchor="start" dominant-baseline="central" fill="#000" textLength="134" lengthAdjust="spacingAndGlyphs" stroke="#000" stroke-width="0.6">GROUND FLOOR PLAN</text>
<text transform="translate(147.5,968) rotate(90)" font-size="13" font-weight="bold" text-anchor="start" dominant-baseline="central" fill="#000" textLength="48" lengthAdjust="spacingAndGlyphs" stroke="#000" stroke-width="0.6">LEVEL 2</text>
<text transform="translate(115.5,968) rotate(90)" font-size="6.5" font-weight="bold" text-anchor="start" dominant-baseline="central" fill="#000" textLength="41.8" lengthAdjust="spacingAndGlyphs" stroke="#000" stroke-width="0.6">Drawing Status:</text>
<text transform="translate(89.6,968) rotate(90)" font-size="6.5" font-weight="bold" text-anchor="start" dominant-baseline="central" fill="#000" textLength="81" lengthAdjust="spacingAndGlyphs" stroke="#000" stroke-width="0.6">Alan Auld Engineering Drawing</text>
<text transform="translate(82.6,968) rotate(90)" font-size="6.5" font-weight="bold" text-anchor="start" dominant-baseline="central" fill="#000" textLength="21.8" lengthAdjust="spacingAndGlyphs" stroke="#000" stroke-width="0.6">Number</text>
<text transform="translate(64,968) rotate(90)" font-size="6.5" font-weight="bold" text-anchor="start" dominant-baseline="central" fill="#000" textLength="26.4" lengthAdjust="spacingAndGlyphs" stroke="#000" stroke-width="0.6">Drawn By</text>
<text transform="translate(50.7,968) rotate(90)" font-size="6.5" font-weight="bold" text-anchor="start" dominant-baseline="central" fill="#000" textLength="32.5" lengthAdjust="spacingAndGlyphs" stroke="#000" stroke-width="0.6">Checked By</text>
<text transform="translate(37.5,968) rotate(90)" font-size="6.5" font-weight="bold" text-anchor="start" dominant-baseline="central" fill="#000" textLength="35" lengthAdjust="spacingAndGlyphs" stroke="#000" stroke-width="0.6">Approved By</text>
<text transform="translate(65,1087.7) rotate(90)" font-size="6.5" font-weight="bold" text-anchor="start" dominant-baseline="central" fill="#000" textLength="34" lengthAdjust="spacingAndGlyphs" stroke="#000" stroke-width="0.6">Scale at A3</text>
<text transform="translate(56.6,1089) rotate(90)" font-size="6.5" font-weight="bold" text-anchor="start" dominant-baseline="central" fill="#000" textLength="15" lengthAdjust="spacingAndGlyphs" stroke="#000" stroke-width="0.8">NTS</text>
<text transform="translate(45.3,1087.1) rotate(90)" font-size="6" font-weight="bold" text-anchor="start" dominant-baseline="central" fill="#000" textLength="14.6" lengthAdjust="spacingAndGlyphs" stroke="#000" stroke-width="0.8">Issue</text>
<text transform="translate(38,1104.7) rotate(90)" font-size="10" font-weight="bold" text-anchor="start" dominant-baseline="central" fill="#000" textLength="11.6" lengthAdjust="spacingAndGlyphs" stroke="#000" stroke-width="0.6">R1</text>
<text transform="translate(236.4,966) rotate(90)" font-size="6.5" font-weight="bold" text-anchor="start" dominant-baseline="central" fill="#000" textLength="27" lengthAdjust="spacingAndGlyphs" stroke="#000" stroke-width="0.6">Job Title</text>
<text transform="translate(285,968.2) rotate(90)" font-size="6.5" font-weight="bold" text-anchor="start" dominant-baseline="central" fill="#000" textLength="15.6" lengthAdjust="spacingAndGlyphs" stroke="#000" stroke-width="0.6">Client</text>
<text transform="translate(357,966.3) rotate(90)" font-size="6" font-weight="bold" text-anchor="start" dominant-baseline="central" fill="#000" textLength="13.1" lengthAdjust="spacingAndGlyphs" stroke="#000" stroke-width="0.8">Issue</text>
<text transform="translate(357,986.4) rotate(90)" font-size="6" font-weight="bold" text-anchor="start" dominant-baseline="central" fill="#000" textLength="11.4" lengthAdjust="spacingAndGlyphs" stroke="#000" stroke-width="0.8">Date</text>
<text transform="translate(357,1018.7) rotate(90)" font-size="6" font-weight="bold" text-anchor="start" dominant-baseline="central" fill="#000" textLength="23.6" lengthAdjust="spacingAndGlyphs" stroke="#000" stroke-width="0.8">Comment</text>
<text transform="translate(357,1106.8) rotate(90)" font-size="6" font-weight="bold" text-anchor="start" dominant-baseline="central" fill="#000" textLength="15.7" lengthAdjust="spacingAndGlyphs" stroke="#000" stroke-width="0.8">By</text>
<text transform="translate(357,1127.8) rotate(90)" font-size="6" font-weight="bold" text-anchor="start" dominant-baseline="central" fill="#000" textLength="13.1" lengthAdjust="spacingAndGlyphs" stroke="#000" stroke-width="0.8">Chkd</text>
<text transform="translate(357,1144.4) rotate(90)" font-size="6" font-weight="bold" text-anchor="start" dominant-baseline="central" fill="#000" textLength="10.4" lengthAdjust="spacingAndGlyphs" stroke="#000" stroke-width="0.8">Appr</text>
<rect x="374.1" y="972.5" width="1.7" height="1.7" fill="#000"/>
<rect x="374.1" y="997.8000000000001" width="1.7" height="1.7" fill="#000"/>
<rect x="374.1" y="1058.6000000000001" width="1.7" height="1.7" fill="#000"/>
<rect x="374.1" y="1114.8" width="1.7" height="1.7" fill="#000"/>
<rect x="374.1" y="1134.0" width="1.7" height="1.7" fill="#000"/>
<rect x="374.1" y="1150.0" width="1.7" height="1.7" fill="#000"/>
<path d="M311,969.1 L347.9,969.1 L347.9,988.8 Z" fill="#0aa0d5"/>
<path d="M311,1012.4 L347.9,1012.4 L347.9,993.1 Z" fill="#0aa0d5"/>
<path d="M321.1,982.9 L335.7,991.3 L321.1,998.6 Z" fill="#0aa0d5"/>
<path d="M310.2,977.1 L313.8,979.5 L313.8,1001.5 L310.2,1003.7 Z" fill="#0aa0d5"/>
<text transform="translate(333.5,1091.8) rotate(90)" font-size="28" text-anchor="middle" dominant-baseline="central" fill="#000" textLength="124" lengthAdjust="spacingAndGlyphs" stroke="#fff" stroke-width="0.3">Alan Auld</text>
<text transform="translate(313.5,1092.8) rotate(90)" font-size="10" text-anchor="middle" dominant-baseline="central" fill="#0aa0d5" textLength="78" lengthAdjust="spacing">ENGINEERING</text>
<text transform="translate(296.6,1061.5) rotate(90)" font-size="6.5" font-weight="bold" text-anchor="middle" dominant-baseline="central" fill="#000" textLength="151" lengthAdjust="spacingAndGlyphs" stroke="#000" stroke-width="0.6">1 South Parade, Doncaster, South Yorkshire DN1 2DY</text>
<text transform="translate(302.9,1065) rotate(90)" font-size="6.5" font-weight="bold" text-anchor="middle" dominant-baseline="central" fill="#000" textLength="144" lengthAdjust="spacingAndGlyphs" stroke="#000" stroke-width="0.6">Tel: 01302 000000 Fax: 01302 000000 Email: info@alanauld.co.uk</text>
<text transform="translate(16.2,1139.4) rotate(90)" font-size="7.5" font-weight="bold" text-anchor="middle" dominant-baseline="central" fill="#000" textLength="9.4" lengthAdjust="spacingAndGlyphs" stroke="#000" stroke-width="0.6">A3</text>
</svg></body></html>
